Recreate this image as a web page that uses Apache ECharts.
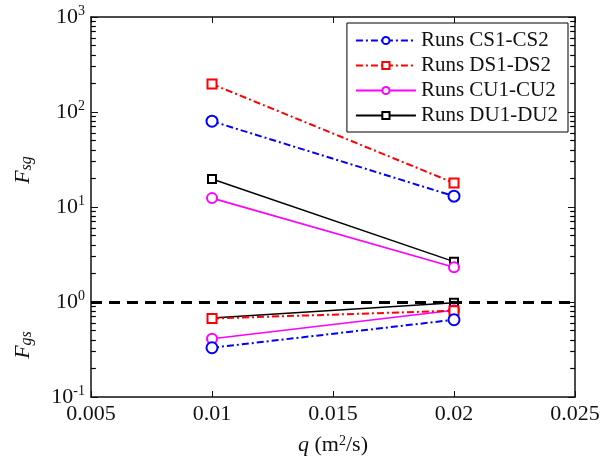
<!DOCTYPE html>
<html>
<head>
<meta charset="utf-8">
<script src="https://cdn.jsdelivr.net/npm/echarts@6/dist/echarts.min.js"></script>
<style>
  html, body { margin: 0; padding: 0; background: #fff; }
  #chart { width: 606px; height: 470px; }
</style>
</head>
<body>
<div id="chart"></div>
<script>
// Discharge per unit width q (m2/s)
const qValues = [0.01, 0.02];

// F_sg (upper group) and F_gs (lower group) for each pair of runs
const csUpper = [80, 13];
const csLower = [0.33, 0.65];
const dsUpper = [197, 17.9];
const dsLower = [0.67, 0.81];
const cuUpper = [12.4, 2.32];
const cuLower = [0.41, 0.82];
const duUpper = [19.7, 2.66];
const duLower = [0.68, 0.98];

const runNames = ['Runs CS1-CS2', 'Runs DS1-DS2', 'Runs CU1-CU2', 'Runs DU1-DU2'];

// x-axis tick range and y log-axis range
const xMin = 0.005, xMax = 0.025, xStep = 0.005;
const yMin = 0.1, yMax = 1000;
const threshold = 1;

// minor tick values for the log axis (2..9 in every decade)
const minorTickValues = [
  0.2, 0.3, 0.4, 0.5, 0.6, 0.7, 0.8, 0.9,
  2, 3, 4, 5, 6, 7, 8, 9,
  20, 30, 40, 50, 60, 70, 80, 90,
  200, 300, 400, 500, 600, 700, 800, 900
];

const serif = "'Liberation Serif', 'Times New Roman', serif";

function pairs(ys) { return qValues.map((q, i) => [q, ys[i]]); }

const styles = [
  { color: '#0000ff', dash: [7, 3, 2, 3], symbol: 'emptyCircle', size: 11, width: 2, bw: 2.4 },
  { color: '#ff0000', dash: [7, 3, 2, 3], symbol: 'emptyRect', size: 9, width: 2, bw: 1.5 },
  { color: '#ff00ff', dash: 'solid', symbol: 'emptyCircle', size: 10, width: 1.6, bw: 1.5 },
  { color: '#000000', dash: 'solid', symbol: 'emptyRect', size: 8, width: 1.5, bw: 1.1 }
];
const groups = [[csUpper, csLower], [dsUpper, dsLower], [cuUpper, cuLower], [duUpper, duLower]];

const series = [];
groups.forEach((g, k) => {
  const s = styles[k];
  g.forEach(vals => {
    series.push({
      name: runNames[k],
      type: 'line',
      data: pairs(vals),
      symbol: s.symbol,
      symbolSize: s.size,
      color: s.color,
      lineStyle: { color: s.color, width: s.width, type: s.dash },
      itemStyle: { color: s.color, borderColor: s.color, borderWidth: s.bw },
      z: 5 - k,
      emphasis: { disabled: true }
    });
  });
});

// dashed reference line at F = 1
series.push({
  type: 'line',
  data: [],
  markLine: {
    silent: true,
    symbol: 'none',
    label: { show: false },
    lineStyle: { color: '#000', width: 3, type: [11, 7] },
    data: [{ yAxis: threshold }]
  }
});

// minor ticks of the log axis, drawn as short segments from each plot edge
const minorTickSpan = 0.0002;
['left', 'right'].forEach(side => {
  series.push({
    type: 'line',
    silent: true,
    data: [],
    markLine: {
      silent: true,
      symbol: 'none',
      label: { show: false },
      lineStyle: { color: '#000', width: 1.2, type: 'solid' },
      data: minorTickValues.map(v => side === 'left'
        ? [{ coord: [xMin, v] }, { coord: [xMin + minorTickSpan, v] }]
        : [{ coord: [xMax - minorTickSpan, v] }, { coord: [xMax, v] }])
    }
  });
});

const chart = echarts.init(document.getElementById('chart'), null, { renderer: 'canvas' });

const axisLineStyle = { color: '#111', width: 1.5 };

function subLabel(text, y) {
  return {
    type: 'text',
    x: 23, y: y,
    rotation: Math.PI / 2,
    style: {
      text: text,
      align: 'center', verticalAlign: 'middle',
      rich: {
        f: { fontFamily: serif, fontSize: 22, fontStyle: 'italic', fill: '#111' },
        s: { fontFamily: serif, fontSize: 16, fontStyle: 'italic', fill: '#111', padding: [8, 0, 0, 0] }
      }
    }
  };
}

chart.setOption({
  animation: false,
  backgroundColor: '#fff',
  grid: { left: 91, right: 31, top: 17, bottom: 73, containLabel: false },
  legend: {
    data: runNames,
    orient: 'vertical',
    right: 38,
    top: 23,
    itemWidth: 60,
    itemHeight: 9,
    itemGap: 4,
    padding: [7, 10, 6, 8],
    borderColor: '#000',
    borderWidth: 1,
    backgroundColor: '#fff',
    textStyle: { fontFamily: serif, fontSize: 21, color: '#111' }
  },
  xAxis: [{
    type: 'value',
    min: xMin, max: xMax, interval: xStep,
    name: '{i|q} (m{s|2}/s)',
    nameLocation: 'middle',
    nameGap: 37,
    nameTextStyle: {
      fontFamily: serif, fontSize: 22, color: '#111',
      rich: {
        i: { fontFamily: serif, fontSize: 22, fontStyle: 'italic' },
        s: { fontFamily: serif, fontSize: 14, verticalAlign: 'top', padding: [0, 0, 8, 0] }
      }
    },
    axisLine: { onZero: false, lineStyle: axisLineStyle },
    axisTick: { inside: true, length: 6, lineStyle: { color: '#111' } },
    axisLabel: { fontFamily: serif, fontSize: 22, color: '#111', margin: 6 },
    splitLine: { show: false }
  }, {
    type: 'value',
    position: 'top',
    min: xMin, max: xMax, interval: xStep,
    axisLine: { onZero: false, lineStyle: axisLineStyle },
    axisTick: { inside: true, length: 6, lineStyle: { color: '#111' } },
    axisLabel: { show: false },
    splitLine: { show: false }
  }],
  yAxis: [{
    type: 'log',
    logBase: 10,
    min: yMin, max: yMax,
    axisLine: { onZero: false, lineStyle: axisLineStyle },
    axisTick: { inside: true, length: 7, lineStyle: { color: '#111' } },
    axisLabel: {
      margin: 6,
      color: '#111',
      formatter: function (v) {
        return '{b|10}{s|' + Math.round(Math.log10(v)) + '}';
      },
      rich: {
        b: { fontFamily: serif, fontSize: 22, color: '#111' },
        s: { fontFamily: serif, fontSize: 14, color: '#111', verticalAlign: 'top', padding: [0, 0, 12, 0] }
      }
    },
    splitLine: { show: false }
  }, {
    type: 'log',
    logBase: 10,
    position: 'right',
    min: yMin, max: yMax,
    axisLine: { onZero: false, lineStyle: axisLineStyle },
    axisTick: { inside: true, length: 7, lineStyle: { color: '#111' } },
    axisLabel: { show: false },
    splitLine: { show: false }
  }],
  graphic: [subLabel('{f|F}{s|sg}', 170), subLabel('{f|F}{s|gs}', 345)],
  series: series
});
</script>
</body>
</html>
